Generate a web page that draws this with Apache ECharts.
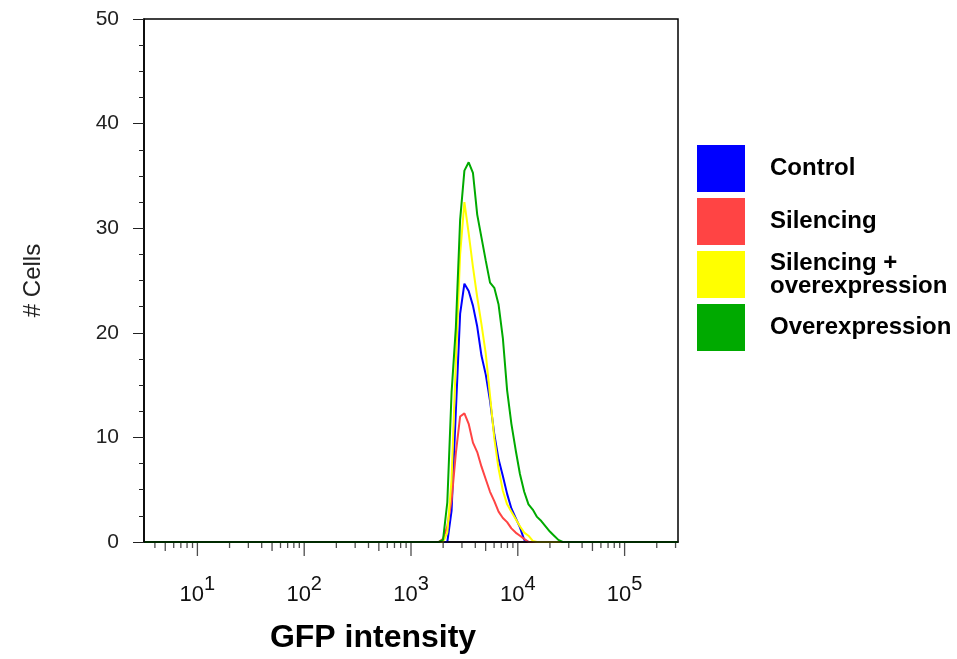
<!DOCTYPE html>
<html>
<head>
<meta charset="utf-8">
<script src="https://cdn.jsdelivr.net/npm/echarts@6/dist/echarts.min.js"></script>
<style>html,body{margin:0;padding:0;background:#fff}#c{width:957px;height:659px}</style>
</head>
<body>
<div id="c"></div>
<script>
// log10(GFP intensity) of histogram bin centres
const binLog = [3.26,3.30,3.34,3.38,3.42,3.46,3.50,3.54,3.58,3.62,3.66,3.70,3.74,3.78,3.82,3.86,3.90,3.94,3.98,4.02,4.06,4.10,4.14,4.18,4.22,4.26,4.30,4.34,4.38,4.42];
const control = [0,0,0,3,12.5,21.8,24.7,24,22.6,20.6,17.8,16,13.5,10.3,7.9,6.3,4.6,3.2,2.3,1.4,0.2,0,0,0,0,0,0,0,0,0];
const silencing = [0,0.3,1.5,4.0,8.5,12,12.3,11.3,9.5,8.6,7.2,6.0,4.8,3.9,2.9,2.3,1.9,1.3,0.9,0.6,0.3,0,0,0,0,0,0,0,0,0];
const silencingOver = [0,0,0.9,6,17.3,27.5,32.5,29.5,26.3,23.4,20.8,18,14,9.9,7,4.9,3.6,2.9,2.2,1.5,0.9,0.6,0.1,0,0,0,0,0,0,0];
const overexpression = [0,0.2,3.8,14.3,20.5,30.8,35.5,36.3,35.3,31.3,29.1,26.9,24.8,24.3,22.7,19.5,14.5,11.3,8.8,6.5,4.8,3.6,3.1,2.4,2.0,1.5,1.0,0.6,0.2,0];
const seriesNames = ['Control','Silencing','Silencing +\noverexpression','Overexpression'];
const seriesColors = ['#0000ff','#ff4444','#ffff00','#00aa00'];
const xRangeLog = [0.5, 5.5];
const mantissas = [2,3,4,5,6,7,8,9];
const yTicks = [0,10,20,30,40,50];

const FONT = 'Arial, "Liberation Sans", sans-serif';
const xMin = Math.pow(10, xRangeLog[0]);
const xMax = Math.pow(10, xRangeLog[1]);

function build(vals) {
  const d = [[xMin, 0]];
  binLog.forEach((l, i) => d.push([Math.pow(10, l), vals[i]]));
  d.push([xMax, 0]);
  return d;
}
const allVals = [control, silencing, silencingOver, overexpression];

// tick marks (positions on the log axis)
const tickData = [];
for (let k = 0; k <= 5; k++) {
  const base = Math.pow(10, k);
  if (k >= 1) tickData.push([base, 0, 'major']);
  mantissas.forEach(m => {
    const v = m * base;
    if (v > xMin && v < xMax) tickData.push([v, 0, m === 5 ? 'mid' : 'minor']);
  });
}
function tickLen(kind) { return kind === 'major' ? 13 : (kind === 'mid' ? 8 : 5); }

const chart = echarts.init(document.getElementById('c'), null, {renderer: 'canvas'});
const series = allVals.map((v, i) => ({
  name: seriesNames[i],
  type: 'line',
  showSymbol: false,
  symbol: 'none',
  data: build(v),
  lineStyle: {color: seriesColors[i], width: 2},
  itemStyle: {color: seriesColors[i]},
  z: 2
}));
series.push({
  name: 'ticks',
  type: 'scatter',
  data: tickData,
  symbol: 'rect',
  clip: false,
  silent: true,
  symbolSize: (val) => [1.3, tickLen(val[2])],
  symbolOffset: (val) => [0, tickLen(val[2]) / 2 + 1],
  itemStyle: {color: '#222'},
  z: 5
});

chart.setOption({
  animation: false,
  backgroundColor: '#fff',
  grid: {left: 144, top: 19, right: 279, bottom: 116, show: true, borderColor: '#000', borderWidth: 1.5, backgroundColor: 'transparent'},
  legend: {
    data: seriesNames,
    orient: 'vertical',
    left: 697, top: 145, padding: 0,
    itemWidth: 48, itemHeight: 47, itemGap: 6,
    icon: 'rect',
    selectedMode: false,
    textStyle: {fontFamily: FONT, fontWeight: 'bold', fontSize: 24, color: '#000', lineHeight: 23, padding: [0,0,0,20]}
  },
  xAxis: {
    type: 'log', logBase: 10, min: xMin, max: xMax,
    z: 3,
    name: 'GFP intensity', nameLocation: 'middle', nameGap: 80,
    nameTextStyle: {fontFamily: FONT, fontWeight: 'bold', fontSize: 32, color: '#000', padding: [0, 76, 0, 0]},
    axisLine: {lineStyle: {color: '#000', width: 1.5}},
    axisTick: {show: false},
    splitLine: {show: false},
    axisLabel: {
      showMinLabel: false, showMaxLabel: false,
      margin: 32,
      formatter: (v) => '{b|10}{s|' + Math.round(Math.log10(v)) + '}',
      rich: {
        b: {fontFamily: FONT, fontSize: 22, color: '#111', lineHeight: 32, verticalAlign: 'bottom'},
        s: {fontFamily: FONT, fontSize: 20, color: '#111', lineHeight: 32, verticalAlign: 'top'}
      }
    }
  },
  yAxis: {
    type: 'value', min: 0, max: 50, interval: 10,
    z: 3,
    name: '# Cells', nameLocation: 'middle', nameGap: 99, nameRotate: 90,
    nameTextStyle: {fontFamily: FONT, fontSize: 24, color: '#222'},
    axisLine: {show: true, lineStyle: {color: '#000', width: 1.5}},
    axisTick: {show: true, length: 11, lineStyle: {color: '#222'}},
    minorTick: {show: true, splitNumber: 4, length: 5, lineStyle: {color: '#222'}},
    splitLine: {show: false},
    axisLabel: {fontFamily: FONT, fontSize: 21, color: '#222', margin: 25, formatter: (v) => yTicks.includes(v) ? String(v) : ''}
  },
  series: series
});
</script>
</body>
</html>
